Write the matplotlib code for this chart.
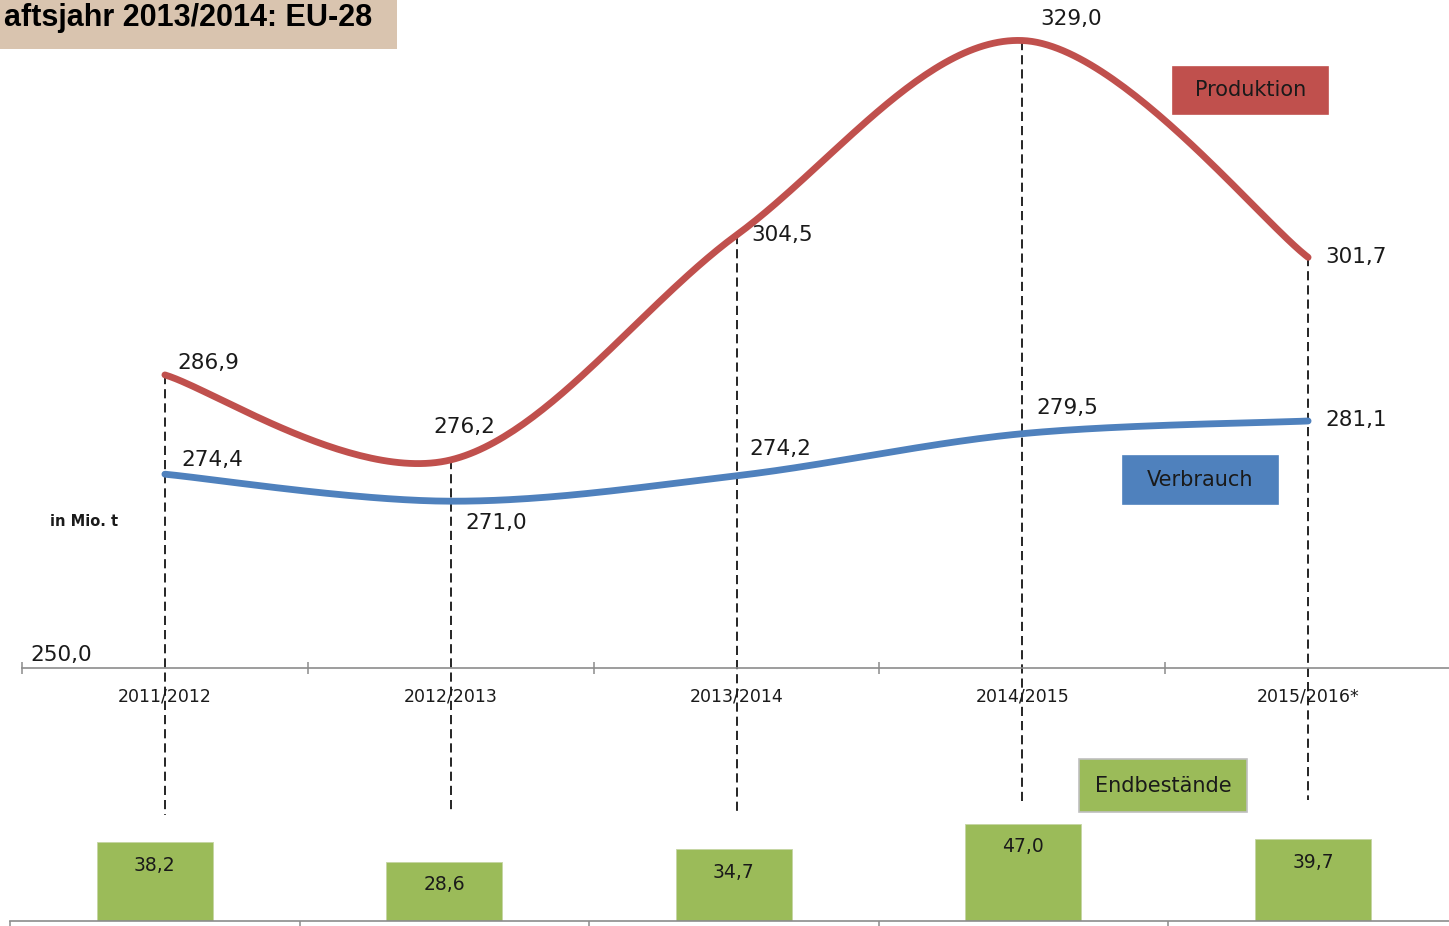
import numpy as np
import matplotlib
matplotlib.use("Agg")
import matplotlib.pyplot as plt
from matplotlib.patches import Rectangle

# data
years = ["2011/2012", "2012/2013", "2013/2014", "2014/2015", "2015/2016*"]
produktion = [286.9, 276.2, 304.5, 329.0, 301.7]
verbrauch = [274.4, 271.0, 274.2, 279.5, 281.1]
endbestaende = [38.2, 28.6, 34.7, 47.0, 39.7]

RED = "#C0504D"
BLUE = "#4F81BD"
GREEN = "#9BBB59"
GRID = "#8C8C8C"

W, H = 1449, 926


def smooth(xs, ys, n=60):
    # Excel-like smoothed line (Catmull-Rom as cubic Bezier)
    xs = np.asarray(xs, float)
    ys = np.asarray(ys, float)
    pts = np.column_stack([xs, ys])
    ext = np.vstack([pts[0], pts, pts[-1]])
    out = []
    for i in range(len(pts) - 1):
        p0, p1, p2, p3 = ext[i], ext[i + 1], ext[i + 2], ext[i + 3]
        c1 = p1 + (p2 - p0) / 6
        c2 = p2 - (p3 - p1) / 6
        t = np.linspace(0, 1, n)[:, None]
        seg = ((1 - t) ** 3) * p1 + 3 * ((1 - t) ** 2) * t * c1 + 3 * (1 - t) * t ** 2 * c2 + t ** 3 * p2
        out.append(seg if i == 0 else seg[1:])
    out = np.vstack(out)
    return out[:, 0], out[:, 1]


def fx(px):
    return px / W


def fy(py):
    return 1 - py / H


fig = plt.figure(figsize=(W / 100, H / 100), dpi=100)
fig.patch.set_facecolor("white")

# main line chart
ax = fig.add_axes([fx(22), fy(668), fx(1449 - 22), 668 / H])
ax.set_xlim(-0.5, 4.493)
ax.set_ylim(250, 334.1)
ax.patch.set_alpha(0)
for s in ["left", "right", "top"]:
    ax.spines[s].set_visible(False)
ax.spines["bottom"].set_color(GRID)
ax.spines["bottom"].set_linewidth(1.2)
ax.set_yticks([])
ax.set_xticks([-0.5, 0.5, 1.5, 2.5, 3.5])
ax.set_xticklabels([])
ax.tick_params(axis="x", which="major", direction="inout", length=8, color=GRID, width=1.1)
ax.set_xticks(range(len(years)), minor=True)
ax.set_xticklabels(years, minor=True, fontsize=12.5, color="#1a1a1a")
ax.tick_params(axis="x", which="minor", length=0, pad=14)

x = np.arange(len(years))
px_per_unit = 668 / (334.1 - 250)
dash_end_px = [815, 812, 815, 803, 800]
for i in range(len(years)):
    ybot = 250 - (dash_end_px[i] - 668) / px_per_unit
    ax.plot([x[i], x[i]], [produktion[i], ybot], color="black", lw=1.2,
            ls=(0, (5.5, 3)), clip_on=False, zorder=1)

sx, sy = smooth(x, produktion)
ax.plot(sx, sy, color=RED, lw=4.9, solid_capstyle="round", zorder=3, clip_on=False)
sx, sy = smooth(x, verbrauch)
ax.plot(sx, sy, color=BLUE, lw=4.9, solid_capstyle="round", zorder=3, clip_on=False)

lab_kw = dict(textcoords="offset pixels", fontsize=15.5, color="#1a1a1a", va="center", zorder=5)
prod_off = [(12, 12, "left"), (14, 33, "center"), (15, 0, "left"), (18, 22, "left"), (17, 0, "left")]
verb_off = [(16, 14, "left"), (15, -22, "left"), (13, 27, "left"), (14, 26, "left"), (17, 1, "left")]
for i in range(len(years)):
    dx, dy, ha = prod_off[i]
    ax.annotate(f"{produktion[i]:.1f}".replace(".", ","), (x[i], produktion[i]),
                xytext=(dx, dy), ha=ha, **lab_kw)
    dx, dy, ha = verb_off[i]
    ax.annotate(f"{verbrauch[i]:.1f}".replace(".", ","), (x[i], verbrauch[i]),
                xytext=(dx, dy), ha=ha, **lab_kw)

fig.text(fx(30), fy(655), "250,0", fontsize=15.5, color="#1a1a1a", va="center", ha="left")
fig.text(fx(50), fy(522), "in Mio. t", fontsize=10.5, fontweight="bold", color="#1a1a1a",
         va="center", ha="left")

# bar chart of stocks
bx = fig.add_axes([fx(10), 5 / H, fx(1449 - 10), 116 / H])
bx.set_xlim(-0.5, 4.47)
bx.set_ylim(0, 116 / 2.065)
bx.patch.set_alpha(0)
for s in ["left", "right", "top"]:
    bx.spines[s].set_visible(False)
bx.spines["bottom"].set_color(GRID)
bx.spines["bottom"].set_linewidth(1.2)
bx.set_yticks([])
bx.set_xticks([-0.5, 0.5, 1.5, 2.5, 3.5])
bx.set_xticklabels([])
bx.tick_params(axis="x", direction="out", length=4, color=GRID, width=1.1)
bx.bar(x, endbestaende, width=0.4, color=GREEN, edgecolor="#c5d6a3", linewidth=0.6, zorder=2)
for i, v in enumerate(endbestaende):
    bx.annotate(f"{v:.1f}".replace(".", ","), (x[i], v), xytext=(0, -23),
                textcoords="offset pixels", ha="center", va="center",
                fontsize=13.5, color="#1a1a1a", zorder=3)


def label_box(x0, y0, x1, y1, text, color, edge=None):
    fig.add_artist(Rectangle((fx(x0), fy(y1)), fx(x1 - x0), (y1 - y0) / H,
                             transform=fig.transFigure, facecolor=color,
                             edgecolor=edge if edge else color, linewidth=1.2, zorder=4))
    fig.text(fx((x0 + x1) / 2), fy((y0 + y1) / 2), text, fontsize=15, color="#1a1a1a",
             ha="center", va="center", zorder=5)


label_box(1173, 67, 1328, 114, "Produktion", RED)
label_box(1123, 456, 1278, 504, "Verbrauch", BLUE)
label_box(1079, 759, 1247, 812, "Endbestände", GREEN, edge="#bfbfbf")

# title box (the source shows only the end of the title)
fig.add_artist(Rectangle((0, fy(49)), fx(397), 49 / H, transform=fig.transFigure,
                         facecolor="#D9C4AF", edgecolor="none", zorder=4))
fig.text(fx(372), fy(18), "aftsjahr 2013/2014: EU-28", fontsize=22, fontweight="bold",
         family="Liberation Sans", color="black", ha="right", va="center", zorder=5)

fig.savefig("out.png", dpi=100)
